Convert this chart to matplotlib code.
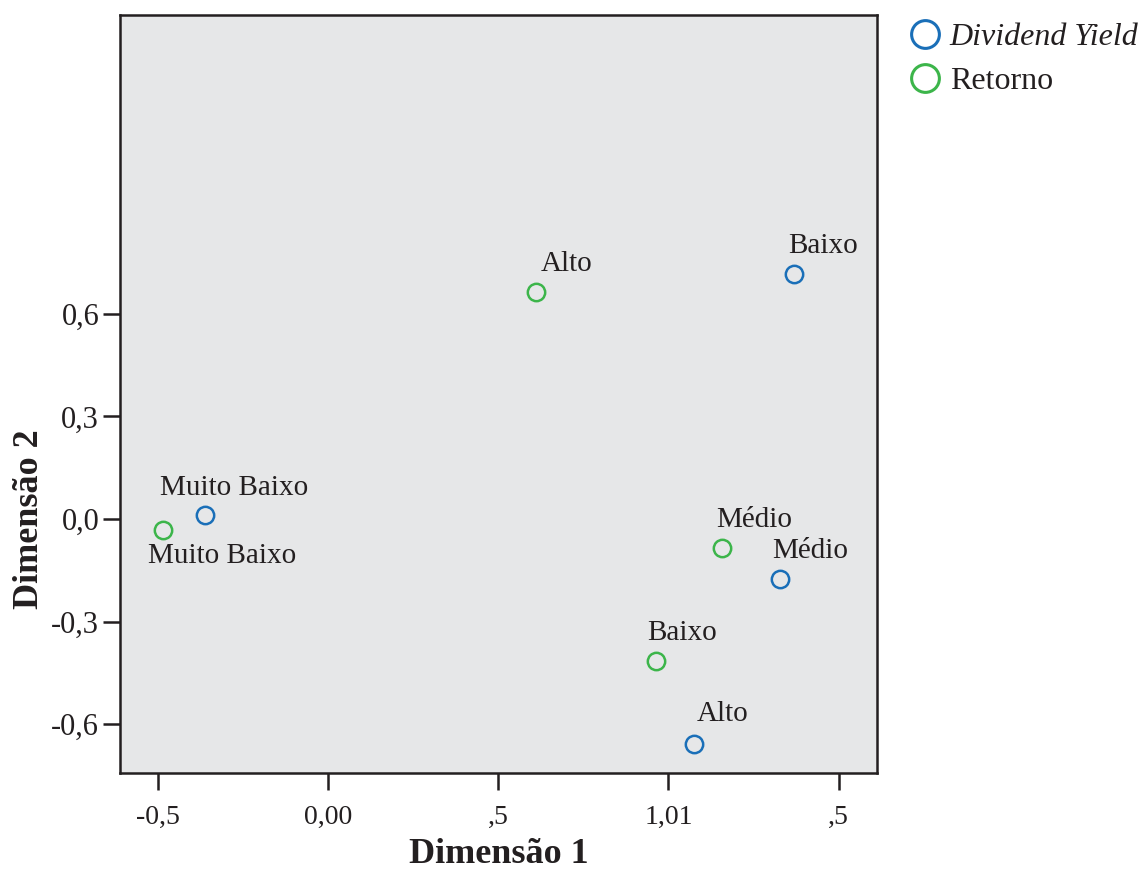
import matplotlib.pyplot as plt
from matplotlib.lines import Line2D

plt.rcParams['font.family'] = ['Liberation Serif', 'DejaVu Serif']

# category points (Dimensão 1, Dimensão 2)
dy_labels = ['Baixo', 'Muito Baixo', 'Médio', 'Alto']
dy_x = [1.368, -0.362, 1.329, 1.074]
dy_y = [0.717, 0.012, -0.175, -0.657]

ret_labels = ['Alto', 'Muito Baixo', 'Médio', 'Baixo']
ret_x = [0.612, -0.487, 1.158, 0.963]
ret_y = [0.664, -0.032, -0.086, -0.414]

# axis ticks as printed in the original
x_ticks = [-0.5, 0.0, 0.5, 1.0, 1.5]
x_tick_labels = ['-0,5', '0,00', ',5', '1,01', ',5']
y_ticks = [-0.6, -0.3, 0.0, 0.3, 0.6]
y_tick_labels = ['-0,6', '-0,3', '0,0', '0,3', '0,6']

blue = '#1a6fb8'
green = '#3cb54a'
ink = '#231f20'

# label offsets in pixels (text left/baseline relative to point)
dy_offsets = [(-5, 21), (-45, 20), (-8, 21), (3, 23)]
ret_offsets = [(4, 21), (-15, -33), (-6, 21), (-9, 21)]

fig = plt.figure(figsize=(11.43, 8.72), dpi=100)
ax = fig.add_axes([0.105, 0.1135, 0.662, 0.8695])
ax.set_facecolor('#e6e7e8')

ax.plot(dy_x, dy_y, 'o', ls='none', mfc='none', mec=blue, ms=12.5, mew=1.8)
ax.plot(ret_x, ret_y, 'o', ls='none', mfc='none', mec=green, ms=12.5, mew=1.8)

for lab, x, y, off in zip(dy_labels, dy_x, dy_y, dy_offsets):
    ax.annotate(lab, (x, y), xytext=off, textcoords='offset pixels',
                ha='left', va='baseline', fontsize=21, color=ink)
for lab, x, y, off in zip(ret_labels, ret_x, ret_y, ret_offsets):
    ax.annotate(lab, (x, y), xytext=off, textcoords='offset pixels',
                ha='left', va='baseline', fontsize=21, color=ink)

ax.set_xlim(-0.612, 1.612)
ax.set_ylim(-0.743, 1.475)
ax.set_xticks(x_ticks)
ax.set_xticklabels(x_tick_labels)
ax.set_yticks(y_ticks)
ax.set_yticklabels(y_tick_labels)
ax.tick_params(direction='out', length=12, width=1.8, colors=ink)
ax.tick_params(axis='x', pad=11, labelsize=20)
ax.tick_params(axis='y', pad=3, labelsize=22)
for s in ax.spines.values():
    s.set_linewidth(1.8)
    s.set_color(ink)

ax.set_xlabel('Dimensão 1', fontsize=26, fontweight='bold', labelpad=6,
              color=ink)
ax.set_ylabel('Dimensão 2', fontsize=26, fontweight='bold', color=ink)
ax.yaxis.set_label_coords(-0.098, 0.335)

handles = [
    Line2D([], [], ls='none', marker='o', mfc='none', mec=blue, ms=20, mew=2.2),
    Line2D([], [], ls='none', marker='o', mfc='none', mec=green, ms=20, mew=2.2),
]
leg = fig.legend(handles, ['Dividend Yield', 'Retorno'], loc='upper left',
                 bbox_to_anchor=(0.795, 0.974), frameon=False, fontsize=23,
                 borderaxespad=0, borderpad=0, handletextpad=0.28,
                 labelspacing=0.47, handlelength=1.0)
leg.get_texts()[0].set_fontstyle('italic')
for t in leg.get_texts():
    t.set_color(ink)

fig.savefig('out.png', dpi=100)
